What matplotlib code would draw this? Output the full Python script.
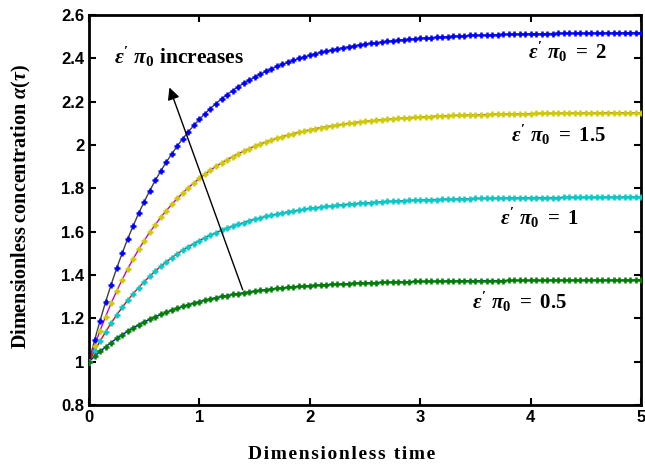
import numpy as np
import matplotlib
matplotlib.use("Agg")
import matplotlib.pyplot as plt
from matplotlib.ticker import FuncFormatter

plt.rcParams['mathtext.fontset'] = 'custom'
plt.rcParams['mathtext.rm'] = 'Liberation Serif:bold'
plt.rcParams['mathtext.it'] = 'Liberation Serif:bold:italic'
plt.rcParams['mathtext.bf'] = 'Liberation Serif:bold'

# dimensionless time grid, step 0.05
time = np.linspace(0, 5, 101)

# concentration, one list per epsilon'*pi0 value
conc_2 = [1.000, 1.098, 1.189, 1.275, 1.355, 1.430, 1.500, 1.566, 1.627, 1.685,
          1.738, 1.789, 1.836, 1.880, 1.921, 1.959, 1.995, 2.029, 2.061, 2.090,
          2.118, 2.144, 2.168, 2.191, 2.212, 2.232, 2.250, 2.268, 2.284, 2.299,
          2.313, 2.327, 2.339, 2.351, 2.362, 2.372, 2.381, 2.390, 2.399, 2.406,
          2.414, 2.421, 2.427, 2.433, 2.439, 2.444, 2.449, 2.453, 2.458, 2.462,
          2.465, 2.469, 2.472, 2.475, 2.478, 2.481, 2.483, 2.486, 2.488, 2.490,
          2.492, 2.494, 2.495, 2.497, 2.498, 2.500, 2.501, 2.502, 2.503, 2.505,
          2.506, 2.506, 2.507, 2.508, 2.509, 2.510, 2.510, 2.511, 2.511, 2.512,
          2.513, 2.513, 2.513, 2.514, 2.514, 2.515, 2.515, 2.515, 2.516, 2.516,
          2.516, 2.516, 2.517, 2.517, 2.517, 2.517, 2.517, 2.518, 2.518, 2.518,
          2.518]
conc_15 = [1.000, 1.074, 1.143, 1.208, 1.269, 1.325, 1.378, 1.428, 1.474, 1.518,
           1.559, 1.597, 1.632, 1.666, 1.697, 1.726, 1.753, 1.779, 1.803, 1.825,
           1.846, 1.865, 1.884, 1.901, 1.917, 1.932, 1.946, 1.959, 1.971, 1.983,
           1.994, 2.004, 2.013, 2.022, 2.030, 2.038, 2.045, 2.052, 2.058, 2.064,
           2.070, 2.075, 2.080, 2.084, 2.088, 2.092, 2.096, 2.099, 2.103, 2.106,
           2.109, 2.111, 2.114, 2.116, 2.118, 2.120, 2.122, 2.124, 2.126, 2.127,
           2.129, 2.130, 2.131, 2.133, 2.134, 2.135, 2.136, 2.137, 2.138, 2.138,
           2.139, 2.140, 2.140, 2.141, 2.142, 2.142, 2.143, 2.143, 2.144, 2.144,
           2.144, 2.145, 2.145, 2.145, 2.146, 2.146, 2.146, 2.146, 2.147, 2.147,
           2.147, 2.147, 2.147, 2.148, 2.148, 2.148, 2.148, 2.148, 2.148, 2.148,
           2.149]
conc_1 = [1.000, 1.049, 1.095, 1.137, 1.178, 1.215, 1.250, 1.283, 1.314, 1.342,
          1.369, 1.394, 1.418, 1.440, 1.460, 1.480, 1.498, 1.515, 1.530, 1.545,
          1.559, 1.572, 1.584, 1.595, 1.606, 1.616, 1.625, 1.634, 1.642, 1.650,
          1.657, 1.663, 1.670, 1.675, 1.681, 1.686, 1.691, 1.695, 1.699, 1.703,
          1.707, 1.710, 1.713, 1.716, 1.719, 1.722, 1.724, 1.727, 1.729, 1.731,
          1.733, 1.734, 1.736, 1.738, 1.739, 1.740, 1.742, 1.743, 1.744, 1.745,
          1.746, 1.747, 1.748, 1.748, 1.749, 1.750, 1.751, 1.751, 1.752, 1.752,
          1.753, 1.753, 1.754, 1.754, 1.754, 1.755, 1.755, 1.755, 1.756, 1.756,
          1.756, 1.757, 1.757, 1.757, 1.757, 1.757, 1.758, 1.758, 1.758, 1.758,
          1.758, 1.758, 1.758, 1.758, 1.759, 1.759, 1.759, 1.759, 1.759, 1.759,
          1.759]
conc_05 = [1.000, 1.024, 1.047, 1.068, 1.088, 1.107, 1.124, 1.140, 1.156, 1.170,
           1.183, 1.196, 1.207, 1.218, 1.228, 1.238, 1.247, 1.255, 1.263, 1.270,
           1.277, 1.284, 1.290, 1.295, 1.301, 1.305, 1.310, 1.314, 1.318, 1.322,
           1.326, 1.329, 1.332, 1.335, 1.338, 1.340, 1.343, 1.345, 1.347, 1.349,
           1.351, 1.352, 1.354, 1.355, 1.357, 1.358, 1.359, 1.360, 1.362, 1.363,
           1.363, 1.364, 1.365, 1.366, 1.367, 1.367, 1.368, 1.368, 1.369, 1.370,
           1.370, 1.370, 1.371, 1.371, 1.372, 1.372, 1.372, 1.373, 1.373, 1.373,
           1.373, 1.374, 1.374, 1.374, 1.374, 1.374, 1.375, 1.375, 1.375, 1.375,
           1.375, 1.375, 1.375, 1.376, 1.376, 1.376, 1.376, 1.376, 1.376, 1.376,
           1.376, 1.376, 1.376, 1.376, 1.376, 1.376, 1.376, 1.376, 1.376, 1.377,
           1.377]

series = [
    (conc_2, '#404040', '#0000ff', r"$\varepsilon^{\prime}\ \pi_0\ =\ 2$", 3.98, 2.43),
    (conc_15, '#cc00cc', '#cccc00', r"$\varepsilon^{\prime}\ \pi_0\ =\ 1.5$", 3.82, 2.045),
    (conc_1, '#ff0000', '#00cccc', r"$\varepsilon^{\prime}\ \pi_0\ =\ 1$", 3.72, 1.663),
    (conc_05, '#0000ff', '#008000', r"$\varepsilon^{\prime}\ \pi_0\ =\ 0.5$", 3.47, 1.275),
]

fig = plt.figure(figsize=(6.45, 4.65), dpi=100)
ax = fig.add_axes([0.138, 0.129, 0.856, 0.839])

for values, line_color, marker_color, label, lx, ly in series:
    # analytical line underneath, numerical markers on top
    ax.plot(time, values, color=line_color, lw=1.0, zorder=2)
    ax.plot(time, values, ls='none', marker='+', ms=5, mew=1.8,
            color=marker_color, zorder=3)
    ax.text(lx, ly, label, fontsize=15, va='center', ha='left', color='black')

ax.annotate('', xy=(0.72, 2.277), xytext=(1.40, 1.32),
            arrowprops=dict(arrowstyle='-|>', color='black', lw=1.0,
                            mutation_scale=18))
ax.text(0.23, 2.405, r"$\varepsilon^{\prime}\ \pi_0$ increases", fontsize=15.5,
        family='Liberation Serif', fontweight='bold', va='center', ha='left')

ax.set_xlim(0, 5)
ax.set_ylim(0.8, 2.6)
ax.set_xticks([0, 1, 2, 3, 4, 5])
ax.set_yticks(np.arange(0.8, 2.61, 0.2))
ax.yaxis.set_major_formatter(FuncFormatter(lambda v, p: '%g' % round(v, 1)))
ax.tick_params(direction='in', top=True, right=True, length=5, width=1.5,
               labelsize=12)
for lab in ax.get_xticklabels() + ax.get_yticklabels():
    lab.set_family('Liberation Sans')
    lab.set_fontweight('bold')
for sp in ax.spines.values():
    sp.set_linewidth(2)

# letter-spaced x label, placed like the original
xlabel = '\u200a'.join('Dimensionless time')
fig.text(0.530, 0.022, xlabel, family='Liberation Serif', fontweight='bold',
         fontsize=14, ha='center', va='center')
fig.text(0.034, 0.555, r"Dimensionless concentration $\alpha(\tau)$",
         family='Liberation Serif', fontweight='bold', fontsize=14.5,
         rotation=90, ha='center', va='center')

fig.savefig('out.png', dpi=100)
